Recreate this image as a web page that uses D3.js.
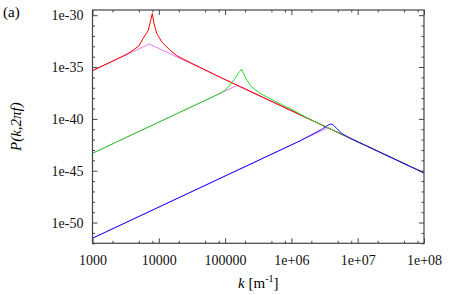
<!DOCTYPE html>
<html>
<head>
<meta charset="utf-8">
<script src="https://cdn.jsdelivr.net/npm/d3@7"></script>
<style>
  body { margin: 0; background: #fff; }
</style>
</head>
<body>
<div id="chart"></div>
<script>
// spectra: [k, P]
var red = [[1e3, 4.47e-36], [2600, 8.13e-35], [3311, 1.74e-34], [4100, 4.27e-34],
  [5012, 1.12e-33], [5800, 5.75e-33], [6950, 3.55e-32], [7550, 3.31e-31],
  [7980, 1.45e-30], [8470, 1.58e-31], [9290, 1.74e-32], [11070, 2.69e-33],
  [14760, 4.27e-34], [18620, 1.26e-34], [23170, 6.03e-35], [31620, 2.24e-35],
  [41780, 9.33e-36], [83750, 1.05e-36], [1e8, 6.17e-46]];
var green = [[1e3, 4.79e-44], [83750, 2.88e-38], [1e5, 6.03e-38], [118600, 1.82e-37],
  [140900, 7.94e-37], [158100, 2.40e-36], [177800, 6.31e-36], [195000, 1.66e-36],
  [211800, 5.50e-37], [251800, 1.23e-37], [335700, 2.88e-38], [527200, 6.46e-39],
  [707900, 2.40e-39], [952800, 1.02e-39], [1413000, 2.51e-40], [1995000, 7.76e-41],
  [1e8, 6.17e-46]];
var blue = [[1e3, 3.09e-52], [1349000, 7.59e-43], [2864000, 9.77e-42], [3404000, 2.04e-41],
  [3631000, 2.63e-41], [3917000, 3.16e-41], [4074000, 3.02e-41], [4285000, 2.51e-41],
  [4819000, 1.20e-41], [5741000, 3.98e-42], [7656000, 1.38e-42], [1e8, 6.17e-46]];
// non-resonant envelopes (magenta)
var baseRed = [[1e3, 4.47e-36], [7200, 1.66e-33], [1e8, 6.17e-46]];
var baseGreen = [[1e3, 4.79e-44], [153000, 1.70e-37], [1e8, 6.17e-46]];
var baseBlue = [[1e3, 3.09e-52], [3550000, 1.38e-41], [1e8, 6.17e-46]];

var xTicks = [1e3, 1e4, 1e5, 1e6, 1e7, 1e8];
var xTickLabels = ["1000", "10000", "100000", "1e+06", "1e+07", "1e+08"];
var yTicks = [1e-50, 1e-45, 1e-40, 1e-35, 1e-30];
var yTickLabels = ["1e-50", "1e-45", "1e-40", "1e-35", "1e-30"];

var width = 452, height = 295;
var pL = 92.5, pR = 424, pT = 10, pB = 243.3;
var serif = "Liberation Serif";

var svg = d3.select("#chart").append("svg")
  .attr("width", width)
  .attr("height", height)
  .attr("font-family", serif);

var x = d3.scaleLog().domain([1e3, 1e8]).range([pL, pR]);
var y = d3.scaleLog().domain([1e-52, Math.pow(10, -29.5)]).range([pB, pT]);

// minor ticks
var xMinor = [];
xTicks.slice(0, -1).forEach(function(t) { [2, 5, 8].forEach(function(m) { xMinor.push(t * m); }); });
var yMinor = [];
for (var e = -52; e <= -30; e++) { if (e % 5 !== 0) yMinor.push(Math.pow(10, e)); }

var line = d3.line()
  .x(function(d) { return x(d[0]); })
  .y(function(d) { return y(d[1]); });

var plot = svg.append("g");
[baseRed, baseGreen, baseBlue].forEach(function(s) {
  plot.append("path").attr("d", line(s))
    .attr("fill", "none").attr("stroke", "#ee77ee").attr("stroke-width", 1);
});
[[red, "#ff0000"], [green, "#22dd22"], [blue, "#1111ff"]].forEach(function(s) {
  plot.append("path").attr("d", line(s[0]))
    .attr("fill", "none").attr("stroke", s[1]).attr("stroke-width", 1);
});

function styleAxis(g) {
  g.attr("font-family", serif).attr("font-size", 14);
  g.selectAll("path").remove();
  g.selectAll("line").attr("stroke", "#444");
  g.selectAll("text").attr("fill", "#111").style("font-family", serif);
}

// major ticks with labels
svg.append("g").attr("transform", "translate(0," + pB + ")")
  .call(d3.axisBottom(x).tickValues(xTicks).tickSize(-5).tickPadding(12)
    .tickFormat(function(d, i) { return xTickLabels[i]; }))
  .call(styleAxis);
svg.append("g").attr("transform", "translate(" + pL + ",0)")
  .call(d3.axisLeft(y).tickValues(yTicks).tickSize(-5).tickPadding(9)
    .tickFormat(function(d, i) { return yTickLabels[i]; }))
  .call(styleAxis);
// mirrored ticks
svg.append("g").attr("transform", "translate(0," + pT + ")")
  .call(d3.axisTop(x).tickValues(xTicks).tickSize(-5).tickFormat(""))
  .call(styleAxis);
svg.append("g").attr("transform", "translate(" + pR + ",0)")
  .call(d3.axisRight(y).tickValues(yTicks).tickSize(-5).tickFormat(""))
  .call(styleAxis);
// minor ticks
svg.append("g").attr("transform", "translate(0," + pB + ")")
  .call(d3.axisBottom(x).tickValues(xMinor).tickSize(-2.5).tickFormat(""))
  .call(styleAxis);
svg.append("g").attr("transform", "translate(0," + pT + ")")
  .call(d3.axisTop(x).tickValues(xMinor).tickSize(-2.5).tickFormat(""))
  .call(styleAxis);
svg.append("g").attr("transform", "translate(" + pL + ",0)")
  .call(d3.axisLeft(y).tickValues(yMinor).tickSize(-2.5).tickFormat(""))
  .call(styleAxis);
svg.append("g").attr("transform", "translate(" + pR + ",0)")
  .call(d3.axisRight(y).tickValues(yMinor).tickSize(-2.5).tickFormat(""))
  .call(styleAxis);

// frame
svg.append("rect")
  .attr("x", pL).attr("y", pT)
  .attr("width", pR - pL).attr("height", pB - pT)
  .attr("fill", "none").attr("stroke", "#444").attr("stroke-width", 1.2);

// axis titles
var xl = svg.append("text")
  .attr("x", (pL + pR) / 2).attr("y", 288)
  .attr("text-anchor", "middle").attr("font-size", 15).style("font-family", serif);
xl.append("tspan").attr("font-style", "italic").text("k");
xl.append("tspan").text(" [m");
xl.append("tspan").attr("font-size", 10).attr("dy", -6).text("-1");
xl.append("tspan").attr("dy", 6).text("]");

svg.append("text")
  .attr("transform", "translate(21," + (pT + pB) / 2 + ") rotate(-90)")
  .attr("text-anchor", "middle").attr("font-size", 15).attr("font-style", "italic")
  .style("font-family", serif)
  .text("P(k,2πf)");

svg.append("text").attr("x", 3).attr("y", 17).attr("font-size", 15)
  .style("font-family", serif).text("(a)");
</script>
</body>
</html>
